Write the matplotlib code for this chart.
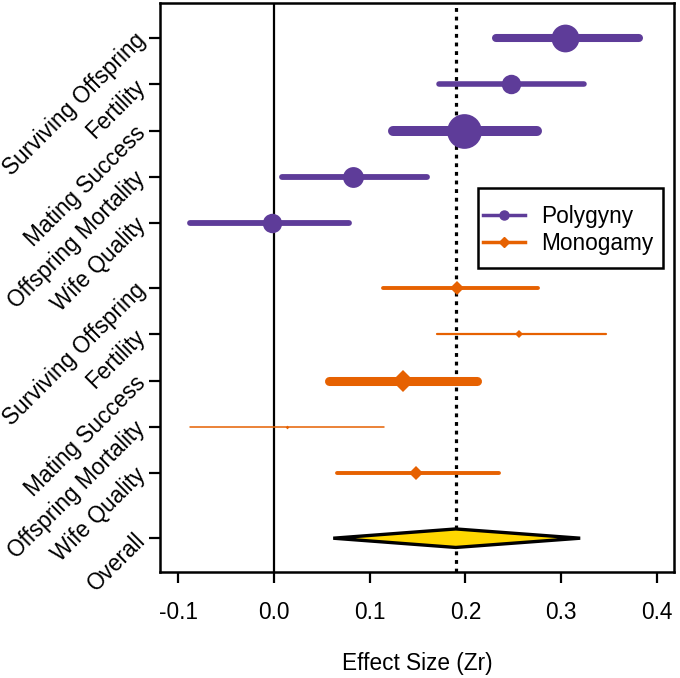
import matplotlib
matplotlib.use("Agg")
import matplotlib.pyplot as plt
from matplotlib.lines import Line2D
from matplotlib.patches import Polygon, Rectangle

plt.rcParams['font.family'] = ['Liberation Sans', 'DejaVu Sans']

# ---- data ----
outcomes = ["Surviving Offspring", "Fertility", "Mating Success",
            "Offspring Mortality", "Wife Quality"]
poly_est = [0.304, 0.248, 0.199, 0.083, -0.002]
poly_lo = [0.232, 0.172, 0.124, 0.008, -0.088]
poly_hi = [0.381, 0.324, 0.275, 0.160, 0.078]
mono_est = [0.191, 0.256, 0.135, 0.014, 0.148]
mono_lo = [0.114, 0.170, 0.058, -0.088, 0.066]
mono_hi = [0.276, 0.347, 0.212, 0.115, 0.235]
overall_est = 0.190
overall_lo = 0.062
overall_hi = 0.320
xticks = [-0.1, 0.0, 0.1, 0.2, 0.3, 0.4]
series_names = ["Polygyny", "Monogamy"]

# ---- styles (weights drawn as sizes) ----
poly_color = "#5E3C99"
mono_color = "#E66101"
poly_lw = [5.8, 4.0, 7.2, 4.2, 4.2]
poly_ms = [20, 14, 25, 15, 14]
mono_lw = [2.8, 1.6, 6.5, 1.1, 2.8]
mono_ms = [9, 5, 15, 2.5, 10]

poly_y = [11.8, 10.8, 9.8, 8.8, 7.8]
mono_y = [6.4, 5.4, 4.4, 3.4, 2.4]
overall_y = 1.0

FS = 16.3

fig = plt.figure(figsize=(6.8, 6.78), dpi=100)
ax = fig.add_axes([160/680, 1 - 572/678, (674-160)/680, (572-3)/678])

ax.axvline(0, color="black", lw=1.6, zorder=1)
ax.axvline(overall_est, color="black", lw=2.3, ls=(0, (1.2, 1.5)), zorder=1)

for y, e, lo, hi, lw, ms in zip(poly_y, poly_est, poly_lo, poly_hi, poly_lw, poly_ms):
    ax.plot([lo, hi], [y, y], color=poly_color, lw=lw, solid_capstyle="round", zorder=2)
    ax.plot([e], [y], marker="o", ms=ms, color=poly_color, mew=0, zorder=3)

for y, e, lo, hi, lw, ms in zip(mono_y, mono_est, mono_lo, mono_hi, mono_lw, mono_ms):
    ax.plot([lo, hi], [y, y], color=mono_color, lw=lw, solid_capstyle="round", zorder=2)
    ax.plot([e], [y], marker="D", ms=ms * 0.75, color=mono_color, mew=0, zorder=3)

h = 0.2
diamond = Polygon([[overall_lo, overall_y], [overall_est, overall_y + h],
                   [overall_hi, overall_y], [overall_est, overall_y - h]],
                  closed=True, facecolor="#FFD700", edgecolor="black", lw=2.4,
                  joinstyle="miter", zorder=4)
ax.add_patch(diamond)

ax.set_xlim(-0.119, 0.418)
ax.set_ylim(0.27, 12.56)
ax.set_xticks(xticks)
ax.set_xticklabels([f"{t:.1f}" for t in xticks], fontsize=FS)
ax.set_yticks(poly_y + mono_y + [overall_y])
ax.set_yticklabels([])
for y, name in zip(poly_y + mono_y + [overall_y], outcomes + outcomes + ["Overall"]):
    ax.annotate(name, xy=(0, y), xycoords=("axes fraction", "data"),
                xytext=(-13, 1), textcoords="offset points",
                rotation=45, ha="right", va="center", rotation_mode="anchor",
                fontsize=FS)
ax.tick_params(axis="both", direction="out", length=8, width=1.6)
ax.tick_params(axis="x", pad=13)
for sp in ax.spines.values():
    sp.set_linewidth(1.8)
ax.set_xlabel("Effect Size (Zr)", fontsize=FS, labelpad=20)

# legend frame
W, H = 514, 569
ax.add_patch(Rectangle(((478-160)/W, 1 - (268-3)/H), (663-478)/W, (268-188)/H,
                       transform=ax.transAxes, facecolor="white", edgecolor="black",
                       lw=1.8, zorder=5))
handles = [Line2D([0], [0], color=poly_color, lw=2.5, marker="o", ms=6.5),
           Line2D([0], [0], color=mono_color, lw=2.5, marker="D", ms=5)]
leg = ax.legend(handles, series_names, loc="center left",
                bbox_to_anchor=((483-160)/W, 1 - (230-3)/H),
                fontsize=FS, frameon=False, handlelength=1.85, handletextpad=0.7,
                borderpad=0, labelspacing=0.15, borderaxespad=0)
leg.set_zorder(6)

fig.savefig("out.png", dpi=100)
